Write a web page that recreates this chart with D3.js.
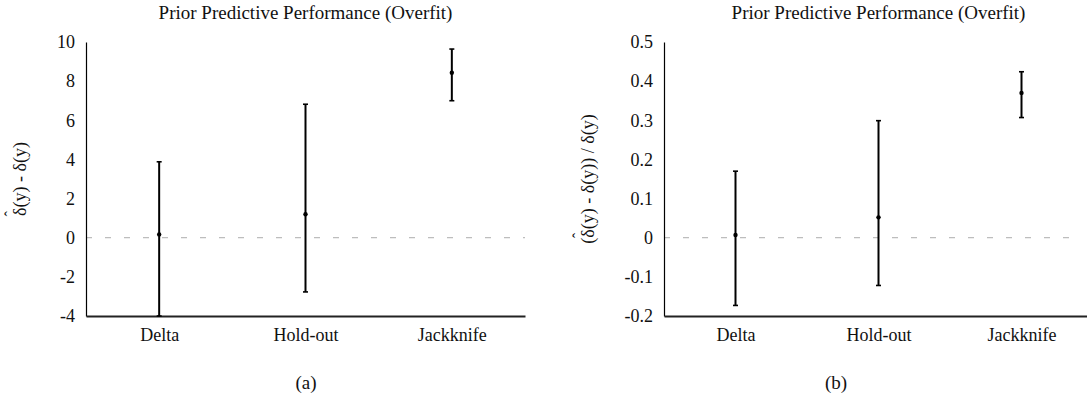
<!DOCTYPE html>
<html>
<head>
<meta charset="utf-8">
<script src="https://cdn.jsdelivr.net/npm/d3@7"></script>
<style>
  html, body { margin: 0; padding: 0; background: #fff; }
  svg { display: block; }
  text { font-family: "Liberation Serif", "Times New Roman", serif; fill: #111; }
</style>
</head>
<body>
<svg id="chart" width="1087" height="405"></svg>
<script>
// Estimators compared in both panels
const methods = ["Delta", "Hold-out", "Jackknife"];

// Panel (a): absolute error  δ̂(y) - δ(y)
const absMean  = [0.17, 1.20, 8.43];
const absLower = [-4.0, -2.77, 7.00];
const absUpper = [3.88, 6.82, 9.64];
const absTicks = [-4, -2, 0, 2, 4, 6, 8, 10];

// Panel (b): relative error  (δ̂(y) - δ(y)) / δ(y)
const relMean  = [0.007, 0.052, 0.370];
const relLower = [-0.173, -0.122, 0.307];
const relUpper = [0.170, 0.299, 0.424];
const relTicks = [-0.2, -0.1, 0, 0.1, 0.2, 0.3, 0.4, 0.5];

const titleText = "Prior Predictive Performance (Overfit)";
const SERIF = "Liberation Serif";

const svg = d3.select("#chart");

function drawPanel(opt) {
  const g = svg.append("g");
  const x = d3.scalePoint().domain(methods).range([opt.x0, opt.x1]).padding(0.5);
  const y = d3.scaleLinear().domain(opt.domain).range([316, 42]);

  const rows = methods.map((m, i) => ({ m, mean: opt.mean[i], lo: opt.lower[i], hi: opt.upper[i] }));

  // title
  g.append("text")
    .attr("x", (opt.x0 + opt.x1) / 2).attr("y", 19)
    .attr("text-anchor", "middle")
    .style("font-size", "19px")
    .text(titleText);

  // zero reference line
  g.append("line")
    .attr("x1", opt.x0).attr("x2", Math.min(opt.x1, 1082))
    .attr("y1", y(0)).attr("y2", y(0))
    .attr("stroke", "#bdbdbd").attr("stroke-width", 1.3)
    .attr("stroke-dasharray", "6,13");

  // y axis (line only, no tick marks)
  const yAxis = g.append("g")
    .attr("transform", `translate(${opt.x0},0)`)
    .call(d3.axisLeft(y).tickValues(opt.ticks).tickSize(0).tickPadding(11).tickFormat(opt.fmt))
    .attr("font-family", SERIF).attr("font-size", 18);
  yAxis.select(".domain").attr("stroke", "#000").attr("stroke-width", 1.2);
  yAxis.selectAll("text").attr("fill", "#111");

  // x axis
  const xAxis = g.append("g")
    .attr("transform", "translate(0,316)")
    .call(d3.axisBottom(x).tickSize(0).tickPadding(12))
    .attr("font-family", SERIF).attr("font-size", 18);
  xAxis.select(".domain").attr("stroke", "#222").attr("stroke-width", 2);
  xAxis.selectAll("text").attr("fill", "#111");

  // error bars with end caps and mean points
  const bars = g.append("g").selectAll("g").data(rows).join("g");
  bars.append("line")
    .attr("x1", d => x(d.m)).attr("x2", d => x(d.m))
    .attr("y1", d => y(d.lo)).attr("y2", d => y(d.hi))
    .attr("stroke", "#000").attr("stroke-width", 2);
  bars.selectAll("line.cap").data(d => [[d.m, d.lo], [d.m, d.hi]]).join("line")
    .attr("class", "cap")
    .attr("x1", d => x(d[0]) - 2.5).attr("x2", d => x(d[0]) + 2.5)
    .attr("y1", d => y(d[1])).attr("y2", d => y(d[1]))
    .attr("stroke", "#000").attr("stroke-width", 1.6);
  bars.append("circle")
    .attr("cx", d => x(d.m)).attr("cy", d => y(d.mean))
    .attr("r", 2.2).attr("fill", "#000");

  // rotated y label; the hat over the estimated delta is placed separately
  const lg = g.append("g").attr("transform", `translate(${opt.labelX},179) rotate(-90)`);
  const lab = lg.append("text")
    .attr("text-anchor", "middle")
    .attr("dominant-baseline", "central")
    .style("font-size", "18px")
    .text(opt.ylabel);
  const ext = lab.node().getExtentOfChar(opt.hatIndex);
  lg.append("text")
    .attr("x", ext.x + ext.width / 2 - 2)
    .attr("y", ext.y + 6)
    .attr("text-anchor", "middle")
    .style("font-size", "16px")
    .text("\u02C6");

  // caption
  g.append("text")
    .attr("x", opt.capX).attr("y", 389)
    .attr("text-anchor", "middle")
    .style("font-size", "19px")
    .text(opt.caption);
}

drawPanel({
  x0: 86, x1: 525, domain: [-4, 10], ticks: absTicks, fmt: d => String(d),
  mean: absMean, lower: absLower, upper: absUpper,
  ylabel: "\u03B4(y) - \u03B4(y)", hatIndex: 0, labelX: 20, caption: "(a)", capX: 306
});

drawPanel({
  x0: 664, x1: 1093, domain: [-0.2, 0.5], ticks: relTicks,
  fmt: d => d === 0 ? "0" : d.toFixed(1),
  mean: relMean, lower: relLower, upper: relUpper,
  ylabel: "(\u03B4(y) - \u03B4(y)) / \u03B4(y)", hatIndex: 1, labelX: 588, caption: "(b)", capX: 836
});
</script>
</body>
</html>
